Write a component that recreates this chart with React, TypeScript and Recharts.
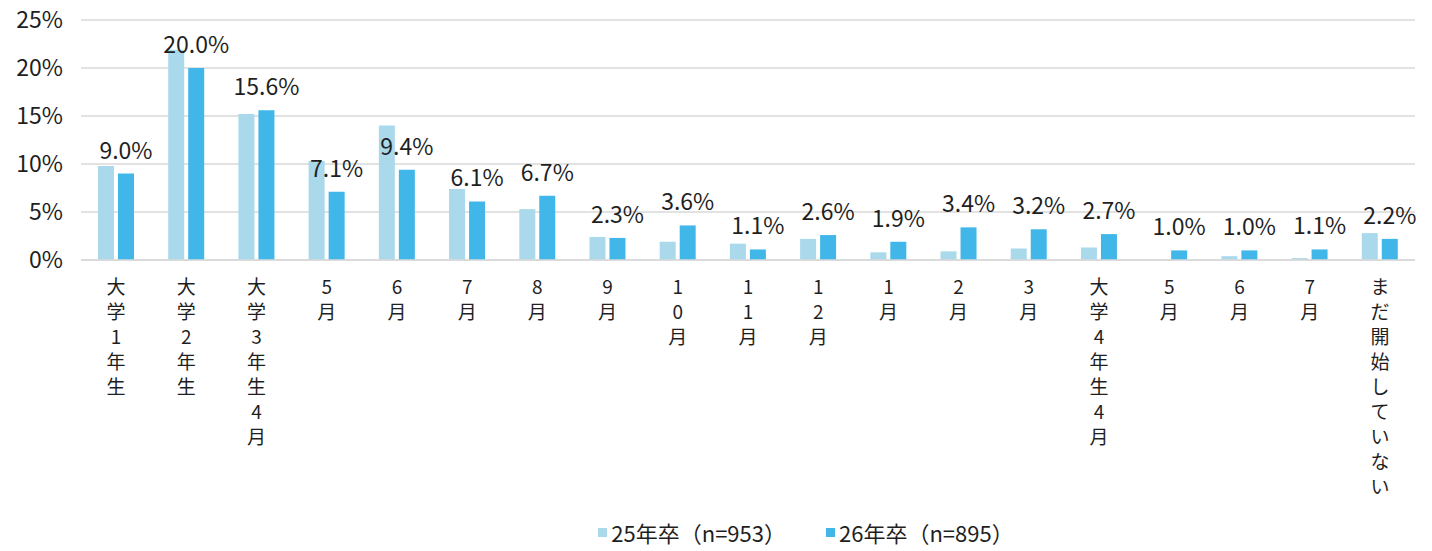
import React from "react";
import {
  BarChart,
  Bar,
  XAxis,
  YAxis,
  CartesianGrid,
  Legend,
  LabelList,
} from "recharts";

const categories = [
  "大学1年生",
  "大学2年生",
  "大学3年生4月",
  "5月",
  "6月",
  "7月",
  "8月",
  "9月",
  "10月",
  "11月",
  "12月",
  "1月",
  "2月",
  "3月",
  "大学4年生4月",
  "5月",
  "6月",
  "7月",
  "まだ開始していない",
];

const grad25 = [9.8, 21.9, 15.2, 10.3, 14.0, 7.4, 5.3, 2.4, 1.9, 1.7, 2.2, 0.8, 0.9, 1.2, 1.3, 0.0, 0.4, 0.2, 2.8];
const grad26 = [9.0, 20.0, 15.6, 7.1, 9.4, 6.1, 6.7, 2.3, 3.6, 1.1, 2.6, 1.9, 3.4, 3.2, 2.7, 1.0, 1.0, 1.1, 2.2];

const yTicks = [0, 5, 10, 15, 20, 25];

const SERIES = [
  { key: "g25", name: "25年卒（n=953）", color: "#aad9ec" },
  { key: "g26", name: "26年卒（n=895）", color: "#41b7e9" },
];

const FONT = '"Noto Sans CJK JP", "Noto Sans", sans-serif';
const INK = "#1f1f1f";

const data = categories.map((c, i) => ({
  id: `${i}`,
  name: c,
  g25: grad25[i],
  g26: grad26[i],
}));

function VerticalTick(props: any) {
  const { x, y, payload } = props;
  const label = categories[payload.index] ?? "";
  const chars = Array.from(label);
  return (
    <text x={x} y={y} textAnchor="middle" fill={INK} fontSize={19} fontFamily={FONT}>
      {chars.map((ch, i) => (
        <tspan key={i} x={x} dy={i === 0 ? 34 : 25}>
          {ch}
        </tspan>
      ))}
    </text>
  );
}

function LegendContent() {
  return (
    <div
      style={{
        display: "flex",
        justifyContent: "center",
        paddingLeft: 180,
        gap: 40,
        fontFamily: FONT,
        fontSize: 22,
        color: INK,
      }}
    >
      {SERIES.map((s) => (
        <span key={s.key} style={{ display: "flex", alignItems: "center", gap: 4 }}>
          <span style={{ width: 9, height: 9, background: s.color, display: "inline-block" }} />
          {s.name}
        </span>
      ))}
    </div>
  );
}

export default function App() {
  return (
    <div style={{ position: "absolute", left: 0, top: 0, width: 1432, height: 551, background: "#fff" }}>
      <BarChart
        width={1432}
        height={551}
        data={data}
        margin={{ top: 20, right: 17, left: 0, bottom: 3 }}
        barSize={16}
        barGap={4}
      >
        <CartesianGrid vertical={false} stroke="#d9d9d9" strokeWidth={1.5} />
        <XAxis
          dataKey="id"
          interval={0}
          tickLine={false}
          tickSize={0}
          tickMargin={0}
          axisLine={{ stroke: "#d9d9d9", strokeWidth: 1.5 }}
          height={256}
          tick={<VerticalTick />}
        />
        <YAxis
          domain={[0, 25]}
          ticks={yTicks}
          width={81}
          axisLine={false}
          tickLine={false}
          tickMargin={12}
          tickFormatter={(v) => `${v}%`}
          tick={{ fontSize: 23, fill: INK, fontFamily: FONT }}
        />
        <Legend verticalAlign="bottom" wrapperStyle={{ left: 0, width: 1432 }} content={<LegendContent />} />
        <Bar dataKey="g25" name={SERIES[0].name} fill={SERIES[0].color} isAnimationActive={false} />
        <Bar dataKey="g26" name={SERIES[1].name} fill={SERIES[1].color} isAnimationActive={false}>
          <LabelList
            dataKey="g26"
            position="top"
            offset={15}
            formatter={(v: any) => `${Number(v).toFixed(1)}%`}
            style={{ fontSize: 23, fill: INK, fontFamily: FONT }}
          />
        </Bar>
      </BarChart>
    </div>
  );
}
